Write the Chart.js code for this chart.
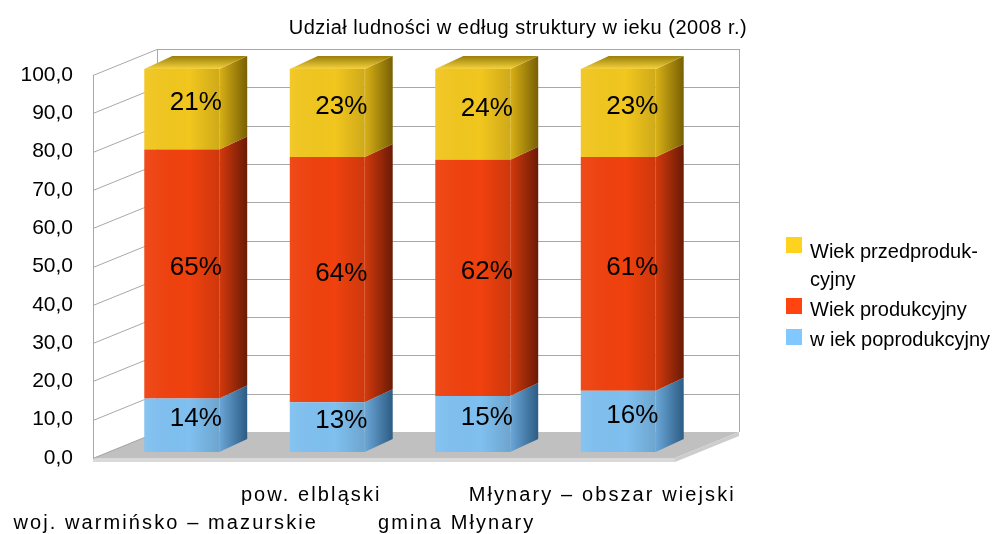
<!DOCTYPE html>
<html>
<head>
<meta charset="utf-8">
<script src="https://cdn.jsdelivr.net/npm/chart.js@4.4.1/dist/chart.umd.min.js"></script>
<style>
  html, body { margin: 0; padding: 0; background: #fff; }
  canvas { display: block; }
</style>
</head>
<body>
<canvas id="my-chart" width="1003" height="534"></canvas>
<script>
const titleText = "Udział ludności w edług struktury w ieku (2008 r.)";
const categories = ["woj. warmińsko – mazurskie", "pow. elbląski", "gmina Młynary", "Młynary – obszar wiejski"];
const seriesNames = ["w iek poprodukcyjny", "Wiek produkcyjny", "Wiek przedprodukcyjny"];
const postWorking = [14, 13, 14.6, 16];
const working = [65, 64, 61.7, 61];
const preWorking = [21, 23, 23.7, 23];
const legendLines = [["Wiek przedproduk-", "cyjny"], ["Wiek produkcyjny"], ["w iek poprodukcyjny"]];

const FONT = "'Liberation Sans', Arial, sans-serif";
// 3d projection offsets
const DEPTH = { dx: 64, dy: 26 };
const BAR_SHIFT = { dx: 16, dy: 6 };
const BAR_DEPTH = { dx: 28, dy: 13 };

const palette = [
  { front: "#7fc0f0", side: ["#6ba7d8", "#2c5c84"], legend: "#80c8ff" },
  { front: "#f0410e", side: ["#d43a0c", "#6a1a06"], legend: "#ff4412" },
  { front: "#f1c61e", side: ["#d9b116", "#786004"], top: ["#f5d23e", "#9a7e08"], legend: "#ffd21f" },
];

const polygon = (ctx, pts, fill) => {
  ctx.beginPath();
  ctx.moveTo(pts[0][0], pts[0][1]);
  pts.slice(1).forEach(([px, py]) => ctx.lineTo(px, py));
  ctx.closePath();
  ctx.fillStyle = fill;
  ctx.fill();
};

const bars3d = {
  id: "bars3d",
  beforeDatasetsDraw(chart) {
    const { ctx, chartArea: a, scales: { y } } = chart;
    const L = a.left, R = a.right;
    const bL = L + DEPTH.dx, bR = R + DEPTH.dx;
    const y0 = y.getPixelForValue(0), y100 = y.getPixelForValue(100);

    ctx.save();
    // floor
    polygon(ctx, [[L, y0], [R, y0], [bR, y0 - DEPTH.dy], [bL, y0 - DEPTH.dy]], "#c0c0c0");
    polygon(ctx, [[L, y0], [R, y0], [R, y0 + 4], [L, y0 + 4]], "#d9d9d9");
    polygon(ctx, [[R, y0], [bR, y0 - DEPTH.dy], [bR, y0 - DEPTH.dy + 4], [R, y0 + 4]], "#cdcdcd");

    // grid lines on side and back wall
    ctx.strokeStyle = "#a8a8a8";
    ctx.lineWidth = 1;
    ctx.beginPath();
    y.ticks.forEach((t) => {
      const py = Math.round(y.getPixelForValue(t.value)) + 0.5;
      ctx.moveTo(L, py);
      ctx.lineTo(bL, py - DEPTH.dy);
      if (t.value > 0) {
        ctx.moveTo(bL, py - DEPTH.dy);
        ctx.lineTo(bR, py - DEPTH.dy);
      }
    });
    ctx.moveTo(L + 0.5, y100);
    ctx.lineTo(L + 0.5, y0);
    ctx.moveTo(bL + 0.5, y100 - DEPTH.dy);
    ctx.lineTo(bL + 0.5, y0 - DEPTH.dy);
    ctx.moveTo(bR + 0.5, y100 - DEPTH.dy);
    ctx.lineTo(bR + 0.5, y0 - DEPTH.dy);
    ctx.stroke();
    ctx.restore();

    // bars sit a bit back from the front edge of the floor
    ctx.save();
    ctx.translate(BAR_SHIFT.dx, -BAR_SHIFT.dy);
  },
  afterDatasetsDraw(chart) {
    const { ctx } = chart;
    const last = chart.data.datasets.length - 1;
    chart.data.datasets.forEach((ds, di) => {
      const col = palette[di];
      chart.getDatasetMeta(di).data.forEach((el) => {
        const { x, y, base, width } = el.getProps(["x", "y", "base", "width"], true);
        const xl = x - width / 2, xr = x + width / 2;
        // soft shade over the front face, darker towards the right edge
        const fg = ctx.createLinearGradient(xl, 0, xr, 0);
        fg.addColorStop(0, "rgba(255,255,255,0.05)");
        fg.addColorStop(0.6, "rgba(0,0,0,0)");
        fg.addColorStop(1, "rgba(0,0,0,0.14)");
        polygon(ctx, [[xl, y], [xr, y], [xr, base], [xl, base]], fg);
        // side face
        const sg = ctx.createLinearGradient(xr, 0, xr + BAR_DEPTH.dx, 0);
        sg.addColorStop(0, col.side[0]);
        sg.addColorStop(1, col.side[1]);
        polygon(ctx, [[xr, y], [xr + BAR_DEPTH.dx, y - BAR_DEPTH.dy], [xr + BAR_DEPTH.dx, base - BAR_DEPTH.dy], [xr, base]], sg);
        if (di === last) {
          const tg = ctx.createLinearGradient(0, y, 0, y - BAR_DEPTH.dy);
          tg.addColorStop(0, col.top[0]);
          tg.addColorStop(1, col.top[1]);
          polygon(ctx, [[xl, y], [xr, y], [xr + BAR_DEPTH.dx, y - BAR_DEPTH.dy], [xl + BAR_DEPTH.dx, y - BAR_DEPTH.dy]], tg);
        }
      });
    });
    ctx.restore();

    // value labels
    ctx.save();
    ctx.fillStyle = "#000";
    ctx.font = "26px " + FONT;
    ctx.textAlign = "center";
    ctx.textBaseline = "middle";
    chart.data.datasets.forEach((ds, di) => {
      chart.getDatasetMeta(di).data.forEach((el, i) => {
        const { x, y, base } = el.getProps(["x", "y", "base"], true);
        const cx = x + BAR_SHIFT.dx + BAR_DEPTH.dx / 2;
        const cy = (y + base) / 2 - BAR_SHIFT.dy - 6;
        ctx.fillText(Math.round(ds.data[i]) + "%", cx, cy);
      });
    });
    ctx.restore();
  },
  afterDraw(chart) {
    const { ctx, scales: { x } } = chart;
    ctx.save();
    ctx.fillStyle = "#000";
    ctx.textBaseline = "alphabetic";

    // title
    ctx.font = "20px " + FONT;
    ctx.letterSpacing = "0.5px";
    ctx.textAlign = "center";
    ctx.fillText(titleText, 518, 34);

    // category labels, staggered on two rows
    ctx.font = "20px " + FONT;
    ctx.letterSpacing = "2.1px";
    categories.forEach((c, i) => {
      ctx.fillText(c, x.getPixelForValue(i), i % 2 === 0 ? 529 : 501);
    });
    ctx.letterSpacing = "0px";

    // legend
    ctx.textAlign = "left";
    const items = [
      { col: palette[2].legend, sq: 237, base: [258, 286] },
      { col: palette[1].legend, sq: 298, base: [316] },
      { col: palette[0].legend, sq: 329, base: [346] },
    ];
    items.forEach((it, k) => {
      ctx.fillStyle = it.col;
      ctx.fillRect(786, it.sq, 16, 16);
      ctx.fillStyle = "#000";
      legendLines[k].forEach((line, j) => ctx.fillText(line, 810, it.base[j]));
    });
    ctx.restore();
  },
};

new Chart(document.getElementById("my-chart"), {
  type: "bar",
  data: {
    labels: categories,
    datasets: [
      { label: seriesNames[0], data: postWorking, backgroundColor: palette[0].front },
      { label: seriesNames[1], data: working, backgroundColor: palette[1].front },
      { label: seriesNames[2], data: preWorking, backgroundColor: palette[2].front },
    ],
  },
  options: {
    responsive: false,
    animation: false,
    devicePixelRatio: 1,
    layout: { padding: { top: 75, right: 328, bottom: 76, left: 0 } },
    datasets: { bar: { barPercentage: 0.515, categoryPercentage: 1, borderWidth: 0 } },
    plugins: {
      legend: { display: false },
      title: { display: false },
      tooltip: { enabled: false },
    },
    scales: {
      x: { stacked: true, display: false },
      y: {
        stacked: true,
        min: 0,
        max: 100,
        afterFit: (scale) => {
          scale.width = 93;
        },
        ticks: {
          stepSize: 10,
          padding: 20,
          color: "#000",
          font: { family: FONT, size: 21 },
          callback: (v) => v.toFixed(1).replace(".", ","),
        },
        grid: { display: false, drawTicks: false },
        border: { display: false },
      },
    },
  },
  plugins: [bars3d],
});
</script>
</body>
</html>
